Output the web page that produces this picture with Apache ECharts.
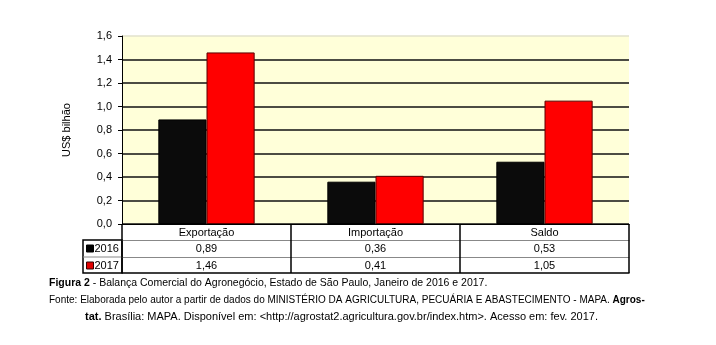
<!DOCTYPE html>
<html>
<head>
<meta charset="utf-8">
<script src="https://cdn.jsdelivr.net/npm/echarts@6/dist/echarts.min.js"></script>
<style>
  html, body { margin: 0; padding: 0; background: #fff; }
  #chart { width: 716px; height: 345px; }
</style>
</head>
<body>
<div id="chart"></div>
<script>
// Balança comercial do agronegócio, SP, janeiro 2016 x 2017 (US$ bilhão)
const categories = ['Exportação', 'Importação', 'Saldo'];
const values2016 = [0.89, 0.36, 0.53];
const values2017 = [1.46, 0.41, 1.05];
const seriesNames = ['2016', '2017'];
const yTicks = { min: 0, max: 1.6, interval: 0.2 };

const FONT = 'Liberation Sans';
const fmt = v => v.toFixed(2).replace('.', ',');

const chart = echarts.init(document.getElementById('chart'), null, { renderer: 'canvas' });

const baseX = {
  type: 'category',
  data: categories,
  position: 'bottom',
  axisTick: { show: false },
  axisLine: { show: true, lineStyle: { color: '#888', width: 1 } },
  axisLabel: { fontFamily: FONT, fontSize: 11, color: '#000', margin: 3 }
};

const boldRich = size => ({ b: { fontWeight: 'bold', fontFamily: FONT, fontSize: size } });

const option = {
  animation: false,
  backgroundColor: '#fff',
  textStyle: { fontFamily: FONT },
  grid: {
    left: 122, right: 87, top: 36, bottom: 121,
    show: true, backgroundColor: '#FFFFD9', borderWidth: 0
  },
  legend: {
    orient: 'vertical',
    left: 86, top: 242,
    padding: 0,
    icon: 'rect',
    itemWidth: 7, itemHeight: 7,
    itemGap: 4,
    selectedMode: false,
    data: [
      { name: seriesNames[0], itemStyle: { color: '#000', borderColor: '#000', borderWidth: 1 } },
      { name: seriesNames[1], itemStyle: { color: '#e00000', borderColor: '#300', borderWidth: 1 } }
    ],
    textStyle: { fontFamily: FONT, fontSize: 11, color: '#000', padding: [0, 0, 0, -4], lineHeight: 13 }
  },
  xAxis: [
    // category header row, with the column dividers drawn as long ticks
    Object.assign({}, baseX, {
      axisLine: { show: true, lineStyle: { color: '#000', width: 1 } },
      axisTick: { show: true, length: 49, lineStyle: { color: '#000', width: 1.5 } }
    }),
    // 2016 row
    Object.assign({}, baseX, {
      offset: 16,
      axisLabel: Object.assign({}, baseX.axisLabel, {
        formatter: (v, i) => fmt(values2016[i])
      })
    }),
    // 2017 row
    Object.assign({}, baseX, {
      offset: 33,
      axisLabel: Object.assign({}, baseX.axisLabel, {
        formatter: (v, i) => fmt(values2017[i])
      })
    }),
    // table bottom edge
    Object.assign({}, baseX, {
      offset: 49,
      axisLine: { show: true, lineStyle: { color: '#000', width: 1.5 } },
      axisLabel: { show: false }
    })
  ],
  yAxis: {
    type: 'value',
    min: yTicks.min, max: yTicks.max, interval: yTicks.interval,
    name: 'US$ bilhão',
    nameLocation: 'middle',
    nameGap: 50,
    nameTextStyle: { fontFamily: FONT, fontSize: 11, color: '#000' },
    axisLine: { show: true, lineStyle: { color: '#000', width: 1 } },
    axisTick: { show: true, length: 4, lineStyle: { color: '#000' } },
    axisLabel: {
      fontFamily: FONT, fontSize: 11, color: '#000', margin: 10,
      formatter: v => v.toFixed(1).replace('.', ',')
    },
    splitLine: {
      show: true,
      lineStyle: {
        color: ['#111', '#111', '#111', '#111', '#111', '#111', '#111', '#111', '#e2e2cc'],
        width: 1.5
      }
    }
  },
  series: [
    {
      name: seriesNames[0], type: 'bar', data: values2016,
      xAxisIndex: 0,
      barGap: '0%', barCategoryGap: '43%',
      itemStyle: { color: '#0b0b0b', borderColor: '#000', borderWidth: 1 }
    },
    {
      name: seriesNames[1], type: 'bar', data: values2017,
      xAxisIndex: 0,
      itemStyle: { color: '#ff0000', borderColor: '#5a0000', borderWidth: 1 }
    }
  ],
  graphic: [
    // row-label column of the data table
    { type: 'rect', shape: { x: 83, y: 240, width: 39, height: 33 }, style: { fill: 'none', stroke: '#000', lineWidth: 1.5 }, silent: true },
    { type: 'line', shape: { x1: 83, y1: 257, x2: 122, y2: 257 }, style: { stroke: '#888', lineWidth: 1 }, silent: true },
    // caption
    {
      type: 'text', left: 49, top: 278,
      style: {
        text: '{b|Figura 2} - Balança Comercial do Agronegócio, Estado de São Paulo, Janeiro de 2016 e 2017.',
        rich: boldRich(10.5),
        font: '10.5px "Liberation Sans"', fill: '#000'
      }
    },
    {
      type: 'text', left: 49, top: 295,
      style: {
        text: 'Fonte: Elaborada pelo autor a partir de dados do MINISTÉRIO DA AGRICULTURA, PECUÁRIA E ABASTECIMENTO - MAPA. {b|Agros-}',
        rich: boldRich(10),
        font: '10px "Liberation Sans"', fill: '#000'
      }
    },
    {
      type: 'text', left: 85, top: 311,
      style: {
        text: '{b|tat.} Brasília: MAPA. Disponível em: <http://agrostat2.agricultura.gov.br/index.htm>. Acesso em: fev. 2017.',
        rich: boldRich(11),
        font: '11px "Liberation Sans"', fill: '#000'
      }
    }
  ]
};

chart.setOption(option);
</script>
</body>
</html>
